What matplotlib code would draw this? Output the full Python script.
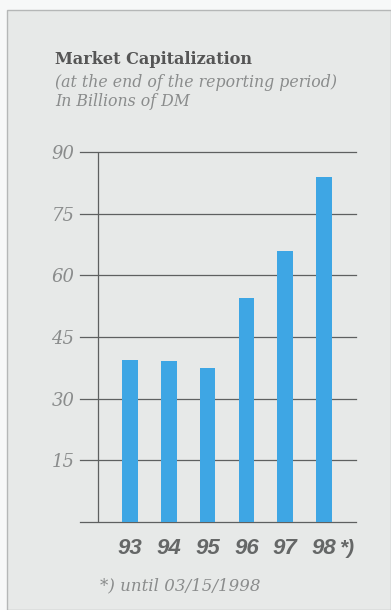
import matplotlib
matplotlib.use("Agg")
import matplotlib.pyplot as plt
from matplotlib.patches import Rectangle

# Market capitalization, billions of DM, at the end of each reporting period
years = ["93", "94", "95", "96", "97", "98"]
year_marks = ["", "", "", "", "", "*)"]
market_cap = [39.4, 39.1, 37.4, 54.6, 66.0, 84.0]
y_ticks = [15, 30, 45, 60, 75, 90]

title = "Market Capitalization"
subtitle_1 = "(at the end of the reporting period)"
subtitle_2 = "In Billions of DM"
footnote = "*) until 03/15/1998"

W, H, DPI = 391, 610, 100
fig = plt.figure(figsize=(W / DPI, H / DPI), dpi=DPI, facecolor="#f7f8f8")

# light grey panel with a thin frame on the top and left
panel = Rectangle((7 / W, 0), 1 - 7 / W, (H - 10) / H, transform=fig.transFigure,
                  facecolor="#e7e9e8", edgecolor="#b5b7b7", linewidth=1.0, zorder=-5)
fig.patches.append(panel)

def px(x, y):
    return x / W, 1 - y / H

serif = "DejaVu Serif"
fig.text(*px(55, 64), title, family=serif, fontweight="bold", fontsize=11.6,
         color="#555555", ha="left", va="baseline")
fig.text(*px(55, 87), subtitle_1, family=serif, style="italic",
         fontsize=11.3, color="#8a8c8c", ha="left", va="baseline")
fig.text(*px(55, 106), subtitle_2, family=serif, style="italic",
         fontsize=11.3, color="#8a8c8c", ha="left", va="baseline")
fig.text(*px(100, 590), footnote, family=serif, style="italic",
         fontsize=12, color="#8a8c8c", ha="left", va="baseline")

left, right, top, bottom = 80, 356, 152, 522
ax = fig.add_axes([left / W, 1 - bottom / H, (right - left) / W, (bottom - top) / H])
ax.set_facecolor("none")
ax.set_xlim(-1.295, 5.826)
ax.set_ylim(0, 90)
for s in ax.spines.values():
    s.set_visible(False)

grid_color = "#5e6060"
for v in [0] + y_ticks:
    ax.axhline(v, color=grid_color, linewidth=0.9, clip_on=False, zorder=1)
ax.axvline(-0.838, ymin=0, ymax=1, color=grid_color, linewidth=0.9, zorder=1)

x = list(range(len(years)))
ax.bar(x, market_cap, width=0.40, color="#3ea6e4", zorder=2)

ax.set_yticks(y_ticks)
ax.set_yticklabels([str(v) for v in y_ticks], family=serif,
                   style="italic", fontsize=13, color="#8a8c8c")
ax.tick_params(axis="y", length=0, pad=4)
ax.set_xticks([])

for i, (lab, mark) in enumerate(zip(years, year_marks)):
    t = ax.annotate(lab, xy=(i, 0), xycoords="data", xytext=(0, -26),
                    textcoords="offset pixels", ha="center", va="center",
                    family="Liberation Sans", style="italic", fontweight="bold",
                    fontsize=16, color="#656767")
    if mark:
        ax.annotate(mark, xy=(1, 0.5), xycoords=t, xytext=(3, 0),
                    textcoords="offset pixels", ha="left", va="center",
                    family="Liberation Sans", style="italic", fontweight="bold",
                    fontsize=15, color="#656767")

fig.savefig("out.png", dpi=DPI, facecolor=fig.get_facecolor())
